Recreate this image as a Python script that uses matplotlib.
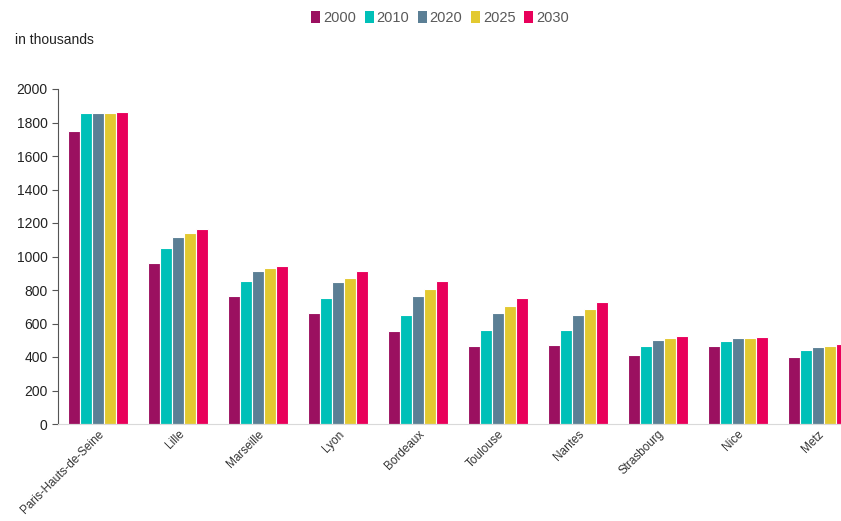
import numpy as np
import matplotlib.pyplot as plt
from matplotlib.patches import Patch

plt.rcParams['font.family'] = ['Liberation Sans', 'DejaVu Sans']

cities = ["Paris-Hauts-de-Seine", "Lille", "Marseille", "Lyon", "Bordeaux",
          "Toulouse", "Nantes", "Strasbourg", "Nice", "Metz"]
years = ["2000", "2010", "2020", "2025", "2030"]
v2000 = [1750, 960, 766, 664, 555, 464, 473, 410, 464, 398]
v2010 = [1855, 1048, 854, 754, 650, 564, 559, 464, 496, 440]
v2020 = [1855, 1114, 912, 845, 764, 663, 651, 501, 512, 460]
v2025 = [1855, 1138, 929, 873, 806, 706, 687, 512, 515, 467]
v2030 = [1862, 1162, 943, 911, 851, 750, 728, 525, 519, 478]
series = [v2000, v2010, v2020, v2025, v2030]
colors = ["#9b1060", "#00c0b8", "#5b7f95", "#e3c930", "#e8005a"]

fig = plt.figure(figsize=(8.41, 5.21), dpi=100)
ax = fig.add_axes([58 / 841, 1 - 424 / 521, 1 - 58 / 841, (424 - 89) / 521])

x = np.arange(len(cities))
w = 0.15
for i, (vals, c) in enumerate(zip(series, colors)):
    ax.bar(x + (i - 2) * w, vals, width=w, color=c, edgecolor="white", linewidth=0.8)

ax.set_ylim(0, 2000)
ax.set_yticks(range(0, 2001, 200))
ax.set_xlim(-0.5, 9.29)
ax.set_xticks(x)
ax.set_xticklabels(cities, rotation=45, ha="right", va="top", rotation_mode="anchor",
                   fontsize=8.5, color="#333333")
ax.tick_params(axis="x", length=0, pad=3)
ax.tick_params(axis="y", labelsize=10, labelcolor="#222222", length=4, color="#555555", direction="out")

for s in ["top", "right"]:
    ax.spines[s].set_visible(False)
ax.spines["left"].set_color("#555555")
ax.spines["bottom"].set_color("#d9d9d9")

handles = [Patch(facecolor=c, label=y) for c, y in zip(colors, years)]
fig.legend(handles=handles, loc="center", bbox_to_anchor=(440 / 841, 1 - 18 / 521), ncol=5,
           frameon=False, fontsize=10.5, handlelength=0.6, handleheight=0.8, handletextpad=0.2,
           columnspacing=0.6, labelcolor="#595959")

fig.text(15 / 841, 1 - 40 / 521, "in thousands", fontsize=10, color="#222222", va="center")

fig.savefig("out.png", dpi=100)
